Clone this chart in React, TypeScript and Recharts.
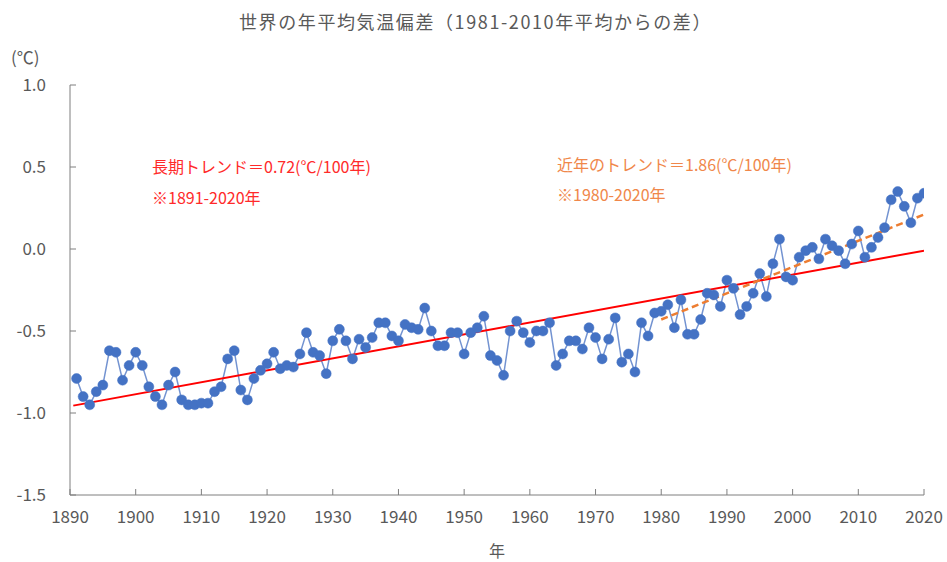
import { LineChart, Line, XAxis, YAxis } from "recharts";

const FIRST_YEAR = 1891;

// 世界の年平均気温偏差 (1981-2010年平均からの差), 1891-2020, 10 years per row
const anomalies = [
  -0.79, -0.9, -0.95, -0.87, -0.83, -0.62, -0.63, -0.8, -0.71, -0.63,
  -0.71, -0.84, -0.9, -0.95, -0.83, -0.75, -0.92, -0.95, -0.95, -0.94,
  -0.94, -0.87, -0.84, -0.67, -0.62, -0.86, -0.92, -0.79, -0.74, -0.7,
  -0.63, -0.73, -0.71, -0.72, -0.64, -0.51, -0.63, -0.65, -0.76, -0.56,
  -0.49, -0.56, -0.67, -0.55, -0.6, -0.54, -0.45, -0.45, -0.53, -0.56,
  -0.46, -0.48, -0.49, -0.36, -0.5, -0.59, -0.59, -0.51, -0.51, -0.64,
  -0.51, -0.48, -0.41, -0.65, -0.68, -0.77, -0.5, -0.44, -0.51, -0.57,
  -0.5, -0.5, -0.45, -0.71, -0.64, -0.56, -0.56, -0.61, -0.48, -0.54,
  -0.67, -0.55, -0.42, -0.69, -0.64, -0.75, -0.45, -0.53, -0.39, -0.38,
  -0.34, -0.48, -0.31, -0.52, -0.52, -0.43, -0.27, -0.28, -0.35, -0.19,
  -0.24, -0.4, -0.35, -0.27, -0.15, -0.29, -0.09, 0.06, -0.17, -0.19,
  -0.05, -0.01, 0.01, -0.06, 0.06, 0.02, -0.01, -0.09, 0.03, 0.11,
  -0.05, 0.01, 0.07, 0.13, 0.3, 0.35, 0.26, 0.16, 0.31, 0.34,
];

// trend line end points
const longTrendYears = [1890.5, 2020];
const longTrendValues = [-0.955, -0.01];
const recentTrendYears = [1980, 2020];
const recentTrendValues = [-0.43, 0.21];

const xTicks = [1890, 1900, 1910, 1920, 1930, 1940, 1950, 1960, 1970, 1980, 1990, 2000, 2010, 2020];
const yTicks = [-1.5, -1.0, -0.5, 0.0, 0.5, 1.0];

const data = anomalies.map((v, i) => ({ year: FIRST_YEAR + i, value: v }));
const longTrend = longTrendYears.map((y, i) => ({ year: y, value: longTrendValues[i] }));
const recentTrend = recentTrendYears.map((y, i) => ({ year: y, value: recentTrendValues[i] }));

const GRAY = "#595959";
const AXIS = "#7f7f7f";
const FONT = "'Noto Sans CJK JP', 'Noto Sans', sans-serif";
const X_MARGIN = 16;
const Y_MARGIN = 24;
const TICK_LEN = 6;

// Excel style: tick marks point into the plot
function XTick(props: any) {
  const { x, y, payload } = props;
  const axisY = y - X_MARGIN;
  return (
    <g>
      <line x1={x} x2={x} y1={axisY - TICK_LEN} y2={axisY} stroke={AXIS} />
      <text x={x} y={y} dy="0.71em" textAnchor="middle" fill={GRAY} fontSize={17} fontFamily={FONT}>
        {payload.value}
      </text>
    </g>
  );
}

function YTick(props: any) {
  const { x, y, payload } = props;
  const axisX = x + Y_MARGIN;
  return (
    <g>
      <line x1={axisX} x2={axisX + TICK_LEN} y1={y} y2={y} stroke={AXIS} />
      <text x={x} y={y} dy="0.355em" textAnchor="end" fill={GRAY} fontSize={17} fontFamily={FONT}>
        {Number(payload.value).toFixed(1)}
      </text>
    </g>
  );
}

function Note({ x, y, color, children, size = 16 }: { x: number; y: number; color: string; children: string; size?: number }) {
  return (
    <div
      style={{
        position: "absolute",
        left: x,
        top: y,
        transform: "translateY(-50%)",
        color,
        fontSize: size,
        fontFamily: FONT,
        whiteSpace: "nowrap",
        lineHeight: 1.3,
      }}
    >
      {children}
    </div>
  );
}

export default function App() {
  return (
    <div style={{ position: "absolute", left: 0, top: 0, width: 947, height: 562, background: "#fff" }}>
      <LineChart
        width={947}
        height={562}
        data={data}
        margin={{ top: 85, right: 23, left: 0, bottom: 0 }}
      >
        <XAxis
          dataKey="year"
          type="number"
          domain={[1890, 2020]}
          ticks={xTicks}
          allowDataOverflow
          height={67}
          stroke={AXIS}
          tickLine={false}
          tickSize={0}
          tickMargin={X_MARGIN}
          tick={<XTick />}
        />
        <YAxis
          type="number"
          domain={[-1.5, 1.0]}
          ticks={yTicks}
          width={70}
          stroke={AXIS}
          tickLine={false}
          tickSize={0}
          tickMargin={Y_MARGIN}
          tick={<YTick />}
        />
        <Line
          dataKey="value"
          stroke="#7393d1"
          strokeWidth={1.5}
          dot={{ r: 5, fill: "#4472C4", stroke: "#4472C4", strokeWidth: 0.5 }}
          isAnimationActive={false}
        />
        <Line
          data={longTrend}
          dataKey="value"
          stroke="#FF0000"
          strokeWidth={2}
          dot={false}
          isAnimationActive={false}
        />
        <Line
          data={recentTrend}
          dataKey="value"
          stroke="#ED7D31"
          strokeWidth={2.5}
          strokeDasharray="7 4"
          dot={false}
          isAnimationActive={false}
        />
      </LineChart>

      <div
        style={{
          position: "absolute",
          left: 0,
          width: 947,
          top: 22,
          transform: "translateY(-50%)",
          textAlign: "center",
          color: GRAY,
          fontSize: 18,
          fontFamily: FONT,
          letterSpacing: 1.6,
          lineHeight: 1.3,
          paddingLeft: 2,
        }}
      >
        世界の年平均気温偏差（1981-2010年平均からの差）
      </div>
      <Note x={11} y={57} color={GRAY} size={17}>(℃)</Note>
      <Note x={489} y={550} color={GRAY} size={16}>年</Note>

      <Note x={152} y={166} color="#FF2A2A">長期トレンド＝0.72(℃/100年)</Note>
      <Note x={152} y={197} color="#FF2A2A">※1891-2020年</Note>
      <Note x={557} y={164} color="#F0874A">近年のトレンド＝1.86(℃/100年)</Note>
      <Note x={557} y={194} color="#F0874A">※1980-2020年</Note>
    </div>
  );
}
